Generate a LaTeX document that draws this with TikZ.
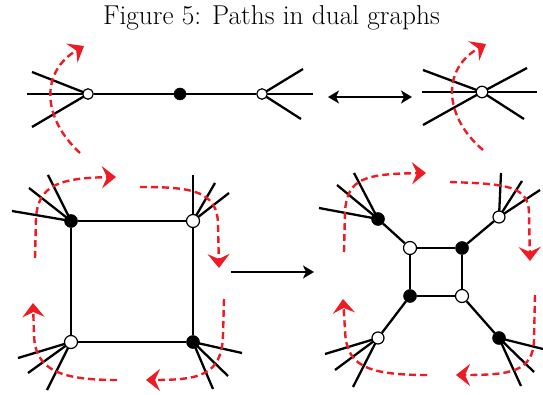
\documentclass[tikz,border=0pt]{standalone}
\usetikzlibrary{arrows.meta,backgrounds}
\definecolor{pathred}{RGB}{237,28,36}
\begin{document}
\begin{tikzpicture}[x=1pt,y=-1pt,
  edge/.style={line width=2.3pt, black},
  wv/.style={circle, draw=black, fill=white, line width=1.2pt, inner sep=0pt, minimum size=12pt},
  bv/.style={circle, draw=black, fill=black, line width=0.5pt, inner sep=0pt, minimum size=13pt},
  redpath/.style={draw=pathred, line width=2.4pt, dash pattern=on 7pt off 4pt,
     -{Stealth[length=14pt,width=22pt,inset=5pt,fill=pathred]}},
  blackarrow/.style={line width=1.8pt, black}
]
\useasboundingbox (0,0) rectangle (543,395);

% title
\node[anchor=base, inner sep=0pt] (title) at (271.5,25)
  {\fontsize{27.3}{32}\selectfont Figure 5: Paths in dual graphs};

% ---------- top left: path graph ----------
\node[wv, minimum size=10.5pt] (L) at (88,94) {};
\node[bv, minimum size=12pt] (M) at (180,94) {};
\node[wv, minimum size=10.5pt] (R) at (262,94) {};
\begin{pgfonlayer}{background}
  \draw[edge] (L) -- (M) -- (R);
  \foreach \p in {{-61,0},{-56,-22},{-56,33}} \draw[edge] (L.center) -- ++(\p);
  \foreach \p in {{51,0},{41,-25},{39,25}} \draw[edge] (R.center) -- ++(\p);
\end{pgfonlayer}
\draw[redpath] (80,153) .. controls (42,118) and (40,72) .. (84,46);

% double arrow
\coordinate (da1) at (328,97);
\coordinate (da2) at (412,97);
\draw[blackarrow, {Stealth[length=11pt,width=13pt,inset=3pt]}-{Stealth[length=11pt,width=13pt,inset=3pt]}] (da1) -- (da2);

% ---------- top right: contracted vertex ----------
\node[wv, minimum size=11.5pt] (V) at (482,92) {};
\begin{pgfonlayer}{background}
  \foreach \p in {{-60,0},{55,0},{-59,-22},{42,27},{-59,33},{45,-24}}
    \draw[edge] (V.center) -- ++(\p);
\end{pgfonlayer}
\draw[redpath] (483,150) .. controls (445,118) and (440,70) .. (486,44);

% ---------- bottom left: square ----------
\node[bv] (A) at (71,221) {};
\node[wv, minimum size=13pt] (B) at (193,221) {};
\node[wv, minimum size=13pt] (C) at (71,342) {};
\node[bv] (D) at (193,342) {};
\begin{pgfonlayer}{background}
  \draw[edge] (A) -- (B) -- (D) -- (C) -- (A);
  \foreach \p in {{-59,-10},{-42,-33},{-23,-46}} \draw[edge] (A.center) -- ++(\p);
  \foreach \p in {{0,-46},{22,-38},{36,-28}} \draw[edge] (B.center) -- ++(\p);
  \foreach \p in {{-53,16},{-43,31},{-24,48}} \draw[edge] (C.center) -- ++(\p);
  \foreach \p in {{49,11},{35,34},{20,47}} \draw[edge] (D.center) -- ++(\p);
\end{pgfonlayer}
\draw[redpath] (35,258) -- (36,218) .. controls (38,185) and (60,178) .. (116,177);
\draw[redpath] (140,187) .. controls (190,187) and (218,190) .. (218,225) -- (219,268);
\draw[redpath] (224,299) -- (223,335) .. controls (222,375) and (200,380) .. (146,380);
\draw[redpath] (117,380) .. controls (60,380) and (35,370) .. (34,335) -- (33,303);

% arrow between squares
\coordinate (ha1) at (231,272);
\coordinate (ha2) at (314,272);
\draw[blackarrow, -{Stealth[length=11pt,width=13pt,inset=3pt]}] (ha1) -- (ha2);

% ---------- bottom right: expanded square ----------
\node[bv] (P) at (378,219) {};
\node[wv] (Q) at (499,217) {};
\node[wv] (S) at (378,338) {};
\node[bv] (T) at (499,338) {};
\node[wv, minimum size=13pt] (p) at (410,248) {};
\node[bv] (q) at (462,248) {};
\node[bv] (s) at (410,296) {};
\node[wv, minimum size=13pt] (t) at (462,296) {};
\begin{pgfonlayer}{background}
  \draw[edge] (p) -- (q) -- (t) -- (s) -- (p);
  \draw[edge] (P) -- (p);
  \draw[edge] (Q) -- (q);
  \draw[edge] (S) -- (s);
  \draw[edge] (T) -- (t);
  \foreach \p in {{-59,-11},{-41,-34},{-24,-46}} \draw[edge] (P.center) -- ++(\p);
  \foreach \p in {{2,-44},{23,-36},{41,-27}} \draw[edge] (Q.center) -- ++(\p);
  \foreach \p in {{-53,16},{-43,32},{-25,49}} \draw[edge] (S.center) -- ++(\p);
  \foreach \p in {{44,11},{35,34},{22,48}} \draw[edge] (T.center) -- ++(\p);
\end{pgfonlayer}
\draw[redpath] (344,252) -- (345,212) .. controls (347,178) and (365,174) .. (426,173);
\draw[redpath] (450,182) .. controls (505,184) and (530,185) .. (529,215) -- (530,261);
\draw[redpath] (535,295) -- (534,340) .. controls (533,372) and (510,375) .. (456,375);
\draw[redpath] (427,375) .. controls (365,375) and (346,365) .. (345,330) -- (343,299);
\end{tikzpicture}
\end{document}
